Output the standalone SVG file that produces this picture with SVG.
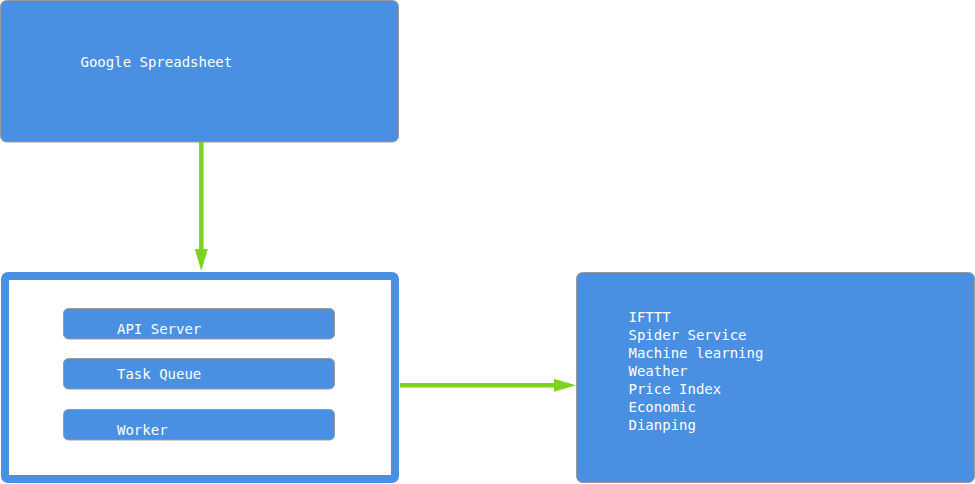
<svg xmlns="http://www.w3.org/2000/svg" width="975" height="484" viewBox="0 0 975 484">
<style>
.box{fill:#4A90E2;stroke:#9B9B9B;stroke-width:1}
.frame{fill:#FFFFFF;stroke:#4A90E2;stroke-width:8}
.pill{fill:#4A90E2;stroke:#9B9B9B;stroke-width:1}
.t{font-family:"DejaVu Sans Mono","Liberation Mono",monospace;font-size:14px;fill:#FFFFFF}
.conn{stroke:#7ED321;stroke-width:4.5;fill:none}
</style>
<defs>
<marker id="ah" markerUnits="userSpaceOnUse" markerWidth="23" markerHeight="14" refX="1" refY="6.5" orient="auto">
<path d="M0,0 L22,6.5 L0,13 Z" fill="#7ED321"/>
</marker>
</defs>
<rect x="0" y="0" width="975" height="484" fill="#FFFFFF"/>
<g id="google-spreadsheet">
<rect class="box" x="0.5" y="0.5" width="398" height="141.5" rx="6"/>
<text class="t" x="80.5" y="67">Google Spreadsheet</text>
</g>
<g id="server-group">
<rect class="frame" x="5" y="276" width="390" height="203" rx="3"/>
</g>
<g id="api-server">
<rect class="pill" x="63.5" y="308.5" width="271" height="30.5" rx="5"/>
<text class="t" x="117" y="334">API Server</text>
</g>
<g id="task-queue">
<rect class="pill" x="63.5" y="358.5" width="271" height="30.5" rx="5"/>
<text class="t" x="117" y="379">Task Queue</text>
</g>
<g id="worker">
<rect class="pill" x="63.5" y="409.5" width="271" height="30.5" rx="5"/>
<text class="t" x="117" y="434.5">Worker</text>
</g>
<g id="services">
<rect class="box" x="576.5" y="272.5" width="398" height="210" rx="6"/>
<text class="t" x="628.5" y="322">IFTTT</text>
<text class="t" x="628.5" y="340">Spider Service</text>
<text class="t" x="628.5" y="358">Machine learning</text>
<text class="t" x="628.5" y="376">Weather</text>
<text class="t" x="628.5" y="394">Price Index</text>
<text class="t" x="628.5" y="412">Economic</text>
<text class="t" x="628.5" y="430">Dianping</text>
</g>
<g id="connectors">
<line class="conn" x1="201.3" y1="142" x2="201.3" y2="250" marker-end="url(#ah)"/>
<line class="conn" x1="400" y1="385.3" x2="555" y2="385.3" marker-end="url(#ah)"/>
</g>
</svg>
